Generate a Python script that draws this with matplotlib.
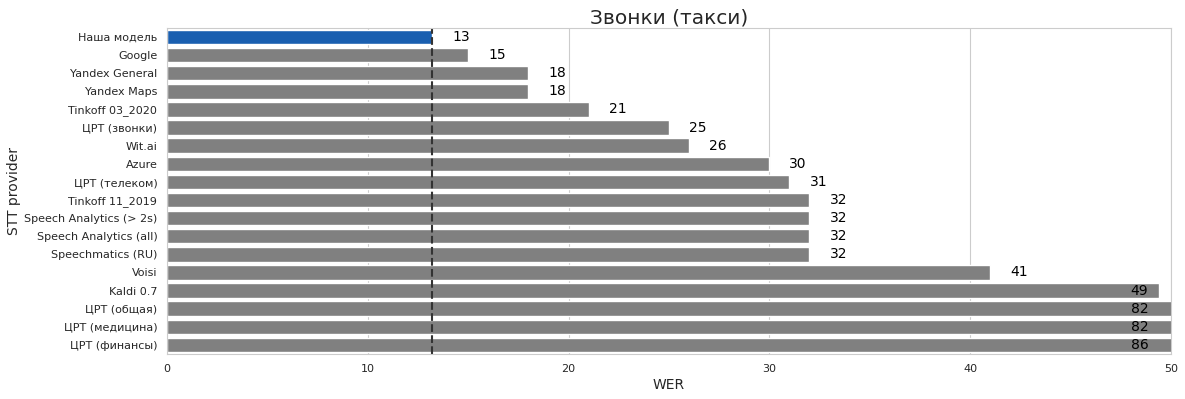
import matplotlib
matplotlib.use('Agg')
import matplotlib.pyplot as plt
import seaborn as sns

providers = ['Наша модель', 'Google', 'Yandex General', 'Yandex Maps', 'Tinkoff 03_2020',
             'ЦРТ (звонки)', 'Wit.ai', 'Azure', 'ЦРТ (телеком)', 'Tinkoff 11_2019',
             'Speech Analytics (> 2s)', 'Speech Analytics (all)', 'Speechmatics (RU)',
             'Voisi', 'Kaldi 0.7', 'ЦРТ (общая)', 'ЦРТ (медицина)', 'ЦРТ (финансы)']
wer = [13.2, 15.0, 18.0, 18.0, 21.0, 25.0, 26.0, 30.0, 31.0, 32.0,
       32.0, 32.0, 32.0, 41.0, 49.4, 82.0, 82.0, 86.0]

sns.set_style('whitegrid')
fig, ax = plt.subplots(figsize=(11.85, 3.99), dpi=100)
colors = ['#1a5fb0'] + ['#808080'] * (len(wer) - 1)
y = list(range(len(wer)))
ax.barh(y, wer, height=0.8, color=colors)
ax.set_yticks(y)
ax.set_yticklabels(providers, fontsize=8)
ax.set_ylim(len(wer) - 0.5, -0.5)
ax.set_xlim(0, 50)
ax.tick_params(axis='x', labelsize=8)
ax.axvline(wer[0], color='#333333', ls='--', lw=1.5)
for i, v in enumerate(wer):
    ax.text(min(v + 1, 48), i, f'{v:.0f}', va='center', ha='left', fontsize=10, color='black')
ax.set_title('Звонки (такси)', fontsize=14.5, pad=3)
ax.set_xlabel('WER', fontsize=10, labelpad=3)
ax.set_ylabel('STT provider', fontsize=10, labelpad=2)
ax.grid(axis='y', visible=False)
fig.subplots_adjust(left=0.141, right=0.988, top=0.93, bottom=0.113)
fig.savefig('out.png', dpi=100)
